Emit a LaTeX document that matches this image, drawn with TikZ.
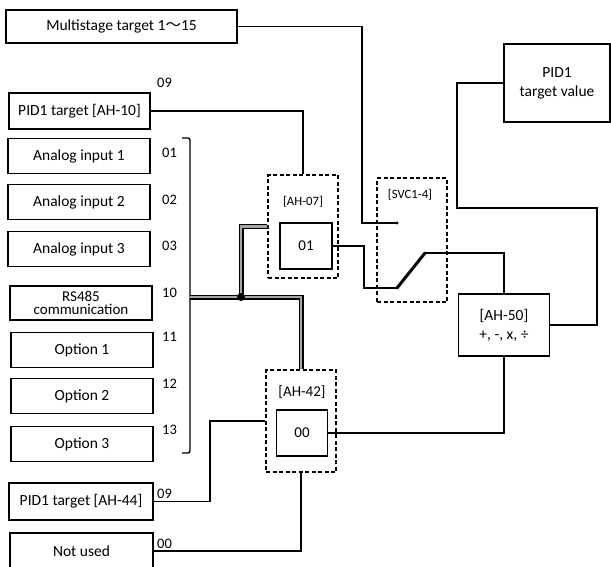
\documentclass[tikz,border=0pt]{standalone}
\usepackage{fontspec}
\setmainfont{Carlito}
\newfontfamily\cjk{Noto Sans CJK JP}

\tikzset{
    srcbox/.style={draw, line width=1.5pt, inner sep=0pt, align=center,
        minimum width=142pt, minimum height=35pt, font=\fontsize{15.5}{13}\selectfont},
    code/.style={anchor=west, inner sep=0pt, font=\fontsize{14.5}{14.5}\selectfont},
    selbox/.style={draw, line width=1.3pt, dash pattern=on 4pt off 2.5pt, inner sep=0pt},
    valbox/.style={draw, line width=1.5pt, inner sep=0pt, font=\fontsize{15}{15}\selectfont},
    wire/.style={line width=1.3pt},
    bus/.style={line width=1.3pt, double=gray!70, double distance=2.4pt},
}

\begin{document}
\begin{tikzpicture}[x=1pt, y=-1pt]
        \clip (0,0) rectangle (611,566);

        % Source boxes
        \node[srcbox, minimum width=231pt, minimum height=33pt] (multi) at (121.5,26.5) {Multistage target 1{\cjk ～}15};
        \node[srcbox, minimum width=141pt, minimum height=36pt] (ah10) at (79.5,111) {PID1 target [AH-10]};
        \node[srcbox] (an1) at (79,156) {Analog input 1};
        \node[srcbox] (an2) at (79,202) {Analog input 2};
        \node[srcbox] (an3) at (79,249) {Analog input 3};
        \node[srcbox, minimum height=34pt, font=\fontsize{15}{13.5}\selectfont] (rs) at (81,303) {RS485\\communication};
        \node[srcbox] (op1) at (82,350) {Option 1};
        \node[srcbox] (op2) at (82,396) {Option 2};
        \node[srcbox] (op3) at (82,444) {Option 3};
        \node[srcbox, minimum width=144pt, minimum height=37pt] (ah44) at (81,501.5) {PID1 target [AH-44]};
        \node[srcbox, minimum width=143pt, minimum height=36pt] (notused) at (81.5,551) {Not used};

        % Codes
        \node[code] at (157,83) {09};
        \node[code] at (162,153) {01};
        \node[code] at (162,200) {02};
        \node[code] at (162,246) {03};
        \node[code] at (162,293) {10};
        \node[code] at (162,337) {11};
        \node[code] at (162,384) {12};
        \node[code] at (162,430) {13};
        \node[code] at (157,494) {09};
        \node[code] at (157,544) {00};

        % Bracket
        \draw[wire, rounded corners=2pt] (182,138) -- (190,138) -- (190,453) -- (182,453);

        % Selectors
        \node[selbox, minimum width=70pt, minimum height=103pt] (sel07) at (303,226.5) {};
        \node[font=\fontsize{12.7}{12.7}\selectfont] at (303,202) {[AH-07]};
        \node[valbox, minimum width=52pt, minimum height=46pt] (v01) at (306,246) {01};

        \node[selbox, minimum width=70pt, minimum height=124pt] (svc) at (412,240) {};
        \node[font=\fontsize{12.7}{12.7}\selectfont] at (410,195) {[SVC1-4]};

        \node[selbox, minimum width=70pt, minimum height=102pt] (sel42) at (301,421) {};
        \node[font=\fontsize{15}{15}\selectfont] at (302,392) {[AH-42]};
        \node[valbox, minimum width=51pt, minimum height=46pt] (v00) at (302,433) {00};

        % Operation and target value
        \node[srcbox, minimum width=91pt, minimum height=62pt, font=\fontsize{15.5}{19}\selectfont] (ah50) at (504,325) {[AH-50]\\+, -, x, ÷};
        \node[srcbox, minimum width=106pt, minimum height=78pt, font=\fontsize{15.5}{19}\selectfont] (pidv) at (557,83) {PID1\\target value};

        % Switch contacts
        \coordinate (swA) at (397,223);
        \coordinate (swL) at (397,288);
        \coordinate (swR) at (425,253);
        \coordinate (busL) at (190,297);
        \coordinate (junc) at (241,297);

        % Wires
        \draw[wire] (multi.east) -| (362,223) -- (swA);
        \fill (swA) circle (1.6pt);
        \draw[wire] (ah10.east) -| (sel07.north);
        \draw[wire] (v01.east) -- (364,246) |- (swL);
        \draw[line width=3pt, line cap=round] (swL) -- (swR);
        \draw[wire] (swR) -| (ah50.north);
        \draw[wire] (pidv.west) -| (457,208) -- (597,208) |- (ah50.east);
        \draw[wire] (ah50.south) |- (v00.east);
        \draw[wire] (ah44.east) -- (210,501.5) |- (sel42.west);
        \draw[wire] (notused.east) -| (sel42.south);

        % Bus
        \draw[bus] (junc) |- (sel07.west);
        \draw[bus] (busL) -| (sel42.north);
        \fill (junc) circle (4pt);
    \end{tikzpicture}
\end{document}
